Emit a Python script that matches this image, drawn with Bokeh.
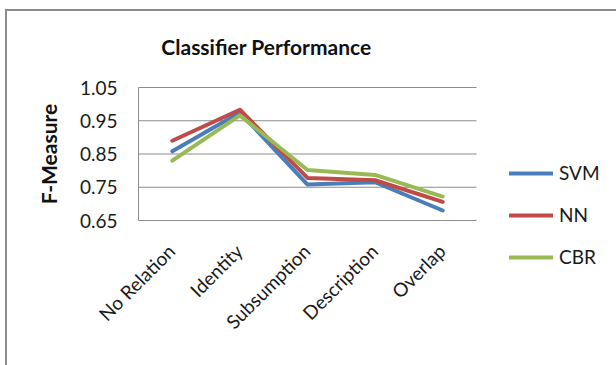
from math import pi

from bokeh.core.properties import value
from bokeh.embed import file_html
from bokeh.models import Label, Legend, LegendItem, Range1d
from bokeh.plotting import figure
from bokeh.resources import INLINE

# Relation categories and F-measure per classifier
categories = ["No Relation", "Identity", "Subsumption", "Description", "Overlap"]
svm = [0.858, 0.975, 0.758, 0.765, 0.680]
nn = [0.890, 0.983, 0.778, 0.771, 0.706]
cbr = [0.830, 0.966, 0.802, 0.787, 0.722]
y_ticks = [0.65, 0.75, 0.85, 0.95, 1.05]
y_tick_labels = ["0.65", "0.75", "0.85", "0.95", "1.05"]

series = [("SVM", svm, "#4a7ebb"), ("NN", nn, "#be4b48"), ("CBR", cbr, "#98b954")]

# page geometry (pixels): the plotting area sits inside a larger chart box
W, H = 616, 365
AREA_LEFT, AREA_TOP, AREA_BOTTOM = 138, 87, 220
PX_PER_CAT = 67.6
PX_PER_UNIT = (AREA_BOTTOM - AREA_TOP) / (y_ticks[-1] - y_ticks[0])

FONT = value("Lato")
TEXT = "#1a1a1a"
GRID = "#8c8c8c"

x_pos = [i + 0.5 for i in range(len(categories))]

p = figure(
    width=W, height=H,
    x_range=Range1d(-AREA_LEFT / PX_PER_CAT, (W - AREA_LEFT) / PX_PER_CAT),
    y_range=Range1d(y_ticks[0] - (H - AREA_BOTTOM) / PX_PER_UNIT,
                    y_ticks[-1] + AREA_TOP / PX_PER_UNIT),
    x_axis_location=None, y_axis_location=None,
    output_backend="svg", toolbar_location=None,
    min_border=0,
)
p.grid.visible = False
p.outline_line_color = None
p.background_fill_color = None
p.border_fill_color = None
# white page with a grey chart border along the left and top
p.styles = {
    "background-color": "white",
    "box-shadow": "inset 5px 9px 0 0 white, inset 7px 11px 0 0 #8c8c8c",
}

# horizontal gridlines and the left edge of the plotting area
p.segment(x0=0, x1=len(categories), y0=y_ticks, y1=y_ticks,
          line_color=GRID, line_width=1)
p.segment(x0=[0], x1=[0], y0=[y_ticks[0]], y1=[y_ticks[-1]],
          line_color=GRID, line_width=1)

# y tick labels and axis title
p.text(x=0, y=y_ticks, text=y_tick_labels, x_offset=-21,
       text_align="right", text_baseline="middle",
       text_font=FONT, text_font_size="19px", text_color=TEXT)
p.text(x=[0], y=[(y_ticks[0] + y_ticks[-1]) / 2], text=["F-Measure"],
       x_offset=-90, angle=pi / 2, text_align="center", text_baseline="middle",
       text_font=FONT, text_font_size="21px", text_font_style="bold",
       text_color="#111111")

# slanted category labels under the plotting area
p.text(x=x_pos, y=y_ticks[0], text=categories, angle=pi / 4,
       x_offset=-1, y_offset=27, text_align="right", text_baseline="middle",
       text_font=FONT, text_font_size="19px", text_color=TEXT)

items = []
for name, vals, color in series:
    r = p.line(x_pos, vals, line_color=color, line_width=4,
               line_join="round", line_cap="round")
    items.append(LegendItem(label=name, renderers=[r]))

legend = Legend(
    items=items, location=(509, H - 268),
    glyph_width=44, glyph_height=20, label_height=20, spacing=19,
    label_standoff=6, padding=0, margin=0,
    border_line_color=None, background_fill_alpha=0,
    label_text_font="Lato", label_text_font_size="19px",
    label_text_color=TEXT,
)
p.add_layout(legend, "center")

p.add_layout(Label(
    x=266, y=H - 46, x_units="screen", y_units="screen",
    text="Classifier Performance", text_align="center", text_baseline="middle",
    text_font="Lato", text_font_style="bold", text_font_size="21px",
    text_color="#111111",
))

open("out.html", "w").write(file_html(p, INLINE))
